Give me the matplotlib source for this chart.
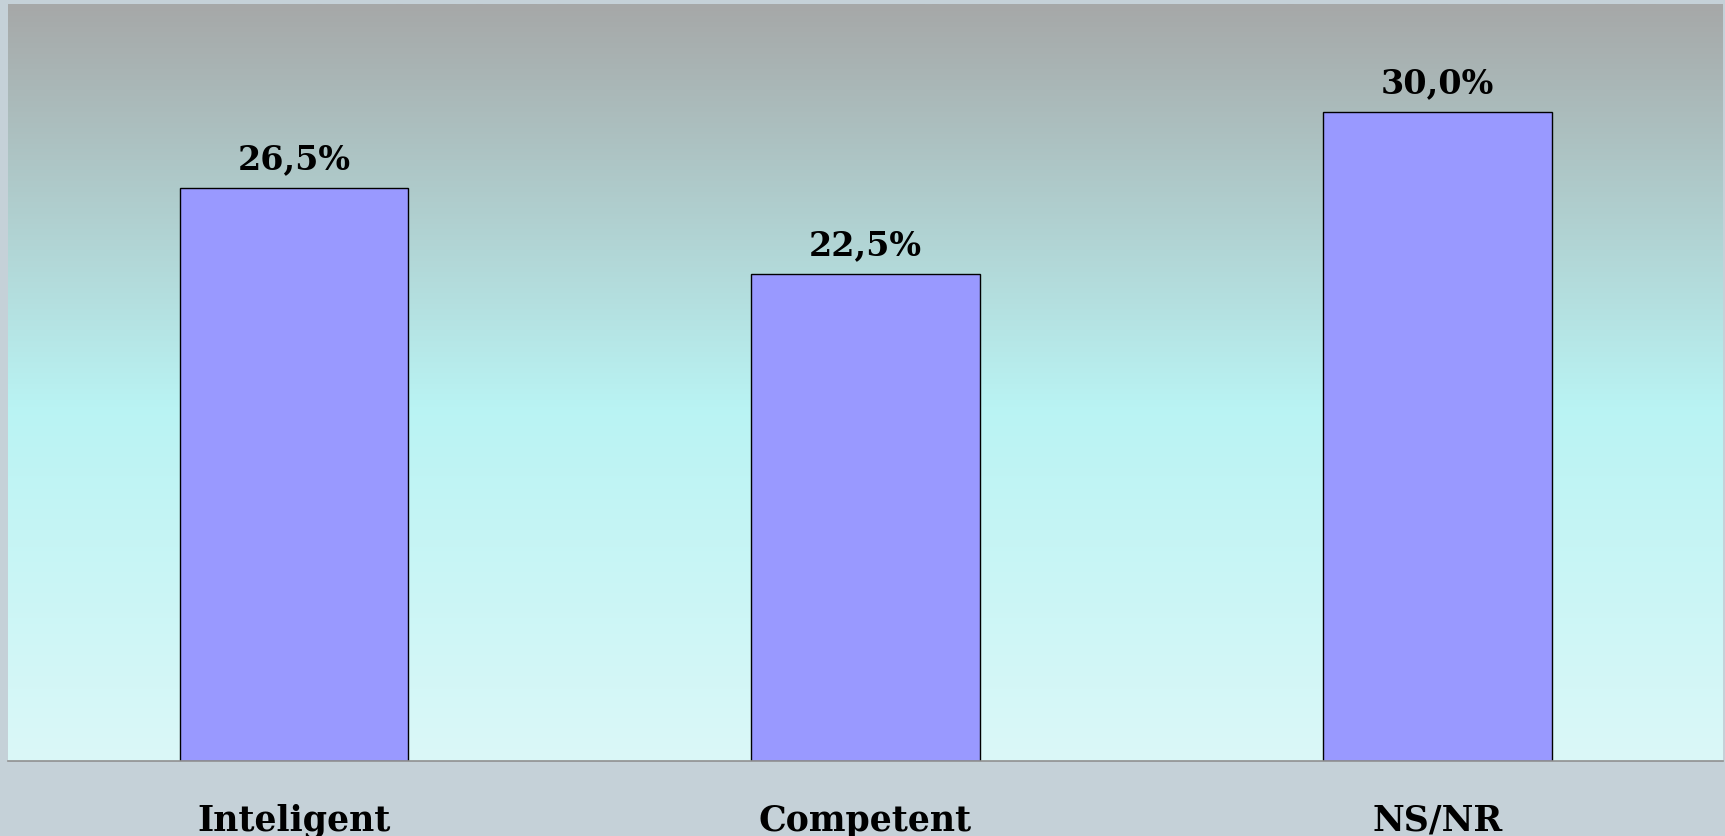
import matplotlib
matplotlib.use('Agg')
import matplotlib.pyplot as plt
import numpy as np
from matplotlib.colors import LinearSegmentedColormap

categories = ['Inteligent', 'Competent', 'NS/NR']
values = [26.5, 22.5, 30.0]
labels = ['26,5%', '22,5%', '30,0%']

fig = plt.figure(figsize=(17.25, 8.37), dpi=100, facecolor='#c5d1d8')
ax = fig.add_axes([8 / 1725, 75 / 837, 1715 / 1725, 757 / 837])

# background gradient, grey on top -> cyan -> pale cyan at the bottom
cmap = LinearSegmentedColormap.from_list(
    'bg', [(0.0, '#dbf8f8'), (0.47, '#b9f3f3'), (1.0, '#a6a8a8')])
grad = np.linspace(0, 1, 256).reshape(-1, 1)
ax.imshow(grad, cmap=cmap, aspect='auto', origin='lower',
          extent=[0, 1, 0, 1], transform=ax.transAxes, zorder=0)

x = np.arange(len(categories))
ax.bar(x, values, width=0.4, color='#9999ff', edgecolor='black',
       linewidth=1.0, zorder=2)

for xi, v, lab in zip(x, values, labels):
    ax.text(xi, v + 0.6, lab, ha='center', va='bottom', fontsize=24,
            fontweight='bold', family='DejaVu Serif', color='black', zorder=3)

ax.set_xlim(-0.5, 2.5)
ax.set_ylim(0, 35)
ax.set_xticks(x)
ax.set_xticklabels(categories, fontsize=25, fontweight='bold',
                   family='DejaVu Serif')
ax.tick_params(axis='x', length=0, pad=30)
ax.set_yticks([])
for s in ['top', 'left', 'right']:
    ax.spines[s].set_visible(False)
ax.spines['bottom'].set_color('#909090')
ax.spines['bottom'].set_linewidth(1.2)

fig.savefig('out.png', dpi=100, facecolor=fig.get_facecolor())
